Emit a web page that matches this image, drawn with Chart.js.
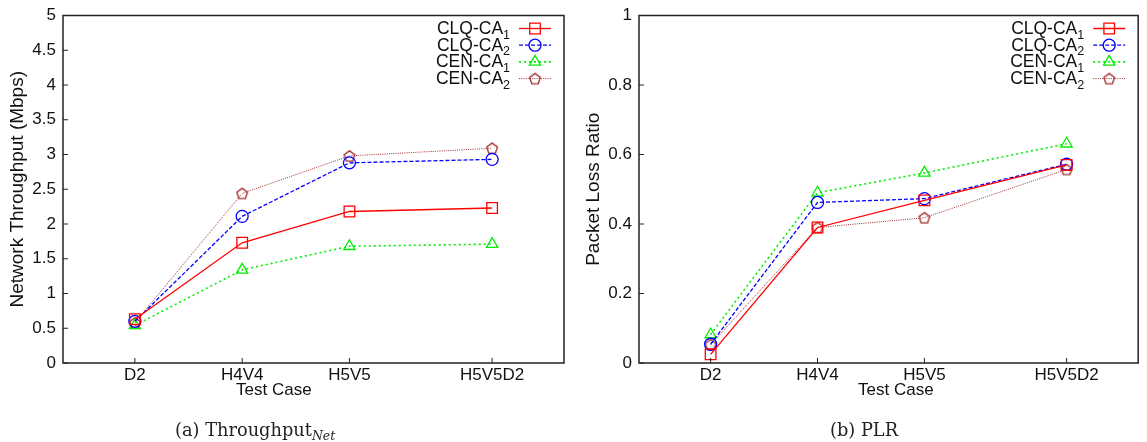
<!DOCTYPE html>
<html>
<head>
<meta charset="utf-8">
<script src="https://cdn.jsdelivr.net/npm/chart.js@4.4.0/dist/chart.umd.min.js"></script>
<style>
body{margin:0;background:#fff;width:1147px;height:442px;position:relative;overflow:hidden;font-family:'Liberation Sans',Arial,sans-serif}
canvas{position:absolute;top:0}
#c1{left:0}
#c2{left:576px}
.xt{position:absolute;font-size:17px;line-height:1;color:#111;white-space:nowrap}
.cap{position:absolute;font-family:'DejaVu Serif',serif;font-size:17.8px;line-height:1;color:#222;white-space:nowrap}
.cap i{font-size:12.5px;position:relative;top:4px}
</style>
</head>
<body>
<canvas id="c1" width="573" height="400"></canvas>
<canvas id="c2" width="571" height="400"></canvas>
<div class="xt" style="left:236px;top:381px">Test Case</div>
<div class="xt" style="left:858px;top:381px">Test Case</div>
<div class="cap" style="left:175px;top:421px">(a) Throughput<i>Net</i></div>
<div class="cap" style="left:830px;top:421px">(b) PLR</div>
<script>
// test cases and where they sit on the x axis
const caseLabels = ['D2', 'H4V4', 'H5V5', 'H5V5D2'];
const casePos = [1, 2, 3, 4.33];
const seriesNames = ['CLQ-CA_1', 'CLQ-CA_2', 'CEN-CA_1', 'CEN-CA_2'];

// (a) network throughput, Mbps
const thrCLQ1 = [0.63, 1.73, 2.18, 2.23];
const thrCLQ2 = [0.60, 2.11, 2.88, 2.93];
const thrCEN1 = [0.54, 1.34, 1.68, 1.71];
const thrCEN2 = [0.58, 2.44, 2.98, 3.09];
const thrTicks = [0, 0.5, 1, 1.5, 2, 2.5, 3, 3.5, 4, 4.5, 5];

// (b) packet loss ratio
const plrCLQ1 = [0.025, 0.39, 0.468, 0.57];
const plrCLQ2 = [0.054, 0.462, 0.473, 0.572];
const plrCEN1 = [0.082, 0.49, 0.547, 0.631];
const plrCEN2 = [0.053, 0.39, 0.418, 0.557];
const plrTicks = [0, 0.2, 0.4, 0.6, 0.8, 1];

const FONT = "'Liberation Sans', Arial, sans-serif";

// open pentagon marker (no built-in one in Chart.js)
function pentagon(color) {
    const c = document.createElement('canvas');
    c.width = 14; c.height = 14;
    const g = c.getContext('2d');
    g.strokeStyle = color;
    g.lineWidth = 1.3;
    g.beginPath();
    for (let k = 0; k < 5; k++) {
        const a = -Math.PI / 2 + k * 2 * Math.PI / 5;
        const px = 7 + 5.6 * Math.cos(a), py = 7.5 + 5.6 * Math.sin(a);
        k ? g.lineTo(px, py) : g.moveTo(px, py);
    }
    g.closePath();
    g.stroke();
    return c;
}
const penta = pentagon('#a52a2a');

const styles = [
    {borderColor: '#ff0000', borderWidth: 1.3, borderDash: [], pointStyle: 'rect', pointRadius: 7.5},
    {borderColor: '#0000ff', borderWidth: 1.3, borderDash: [4, 2], pointStyle: 'circle', pointRadius: 6},
    {borderColor: '#00ee00', borderWidth: 1.6, borderDash: [2, 3], pointStyle: 'triangle', pointRadius: 6.5},
    {borderColor: '#a52a2a', borderWidth: 1, borderDash: [1, 1.2], pointStyle: penta, pointRadius: 6}
];

function makeSets(seriesList) {
    return seriesList.map((vals, i) => Object.assign({
        label: seriesNames[i],
        data: vals.map((v, j) => ({x: casePos[j], y: v})),
        pointBorderColor: styles[i].borderColor,
        pointBackgroundColor: 'rgba(0,0,0,0)',
        pointBorderWidth: 1.3,
        tension: 0,
        fill: false
    }, styles[i]));
}

// gnuplot style box with inward ticks
const framePlugin = {
    id: 'frame',
    afterDatasetsDraw(chart) {
        const ctx = chart.ctx, a = chart.chartArea;
        ctx.save();
        ctx.strokeStyle = '#222';
        ctx.lineWidth = 1.5;
        ctx.setLineDash([]);
        ctx.strokeRect(a.left, a.top, a.right - a.left, a.bottom - a.top);
        ctx.lineWidth = 1;
        ctx.beginPath();
        chart.scales.y.ticks.forEach(t => {
            const y = chart.scales.y.getPixelForValue(t.value);
            ctx.moveTo(a.left, y); ctx.lineTo(a.left + 5, y);
        });
        chart.scales.x.ticks.forEach(t => {
            const x = chart.scales.x.getPixelForValue(t.value);
            ctx.moveTo(x, a.bottom); ctx.lineTo(x, a.bottom - 5);
        });
        ctx.stroke();
        ctx.restore();
    }
};

// legend: right aligned text with subscript, then line sample and marker
const legendPlugin = {
    id: 'gpLegend',
    afterDraw(chart) {
        const ctx = chart.ctx, a = chart.chartArea;
        chart.data.datasets.forEach((ds, i) => {
            const y = a.top + 13 + i * 16.7;
            const parts = ds.label.split('_');
            const xr = a.right - 54;
            ctx.save();
            ctx.fillStyle = '#111';
            ctx.textAlign = 'right';
            ctx.textBaseline = 'alphabetic';
            ctx.font = '12.5px ' + FONT;
            const sw = ctx.measureText(parts[1]).width;
            ctx.fillText(parts[1], xr, y + 10);
            ctx.font = '17.5px ' + FONT;
            ctx.fillText(parts[0], xr - sw, y + 5.5);
            ctx.strokeStyle = ds.borderColor;
            ctx.lineWidth = ds.borderWidth;
            ctx.setLineDash(ds.borderDash);
            ctx.beginPath();
            ctx.moveTo(a.right - 45, y);
            ctx.lineTo(a.right - 13, y);
            ctx.stroke();
            ctx.setLineDash([]);
            ctx.lineWidth = 1.3;
            ctx.fillStyle = 'rgba(0,0,0,0)';
            Chart.helpers.drawPoint(ctx, {
                pointStyle: ds.pointStyle, radius: ds.pointRadius, borderWidth: 1.3, rotation: 0
            }, a.right - 29, y);
            ctx.restore();
        });
    }
};

function makeChart(id, seriesList, ticks, yTitle, rightPad) {
    return new Chart(document.getElementById(id), {
        type: 'line',
        data: {datasets: makeSets(seriesList)},
        options: {
            responsive: false,
            devicePixelRatio: 1,
            animation: false,
            events: [],
            layout: {padding: {top: 9, right: rightPad, left: 0, bottom: 0}},
            plugins: {legend: {display: false}, tooltip: {enabled: false}},
            scales: {
                x: {
                    type: 'linear',
                    min: 0.33,
                    max: 5,
                    grid: {display: false, drawTicks: false},
                    border: {display: false},
                    afterBuildTicks: s => { s.ticks = casePos.map(v => ({value: v})); },
                    afterFit: s => { s.height = 37; },
                    ticks: {
                        color: '#111',
                        padding: 4,
                        maxRotation: 0,
                        autoSkip: false,
                        font: {family: FONT, size: 17, lineHeight: 1},
                        callback: v => caseLabels[casePos.indexOf(v)]
                    }
                },
                y: {
                    min: 0,
                    max: ticks[ticks.length - 1],
                    grid: {display: false, drawTicks: false},
                    border: {display: false},
                    afterBuildTicks: s => { s.ticks = ticks.map(v => ({value: v})); },
                    afterFit: s => { s.width = 63; },
                    ticks: {
                        color: '#111',
                        padding: 7,
                        font: {family: FONT, size: 17, lineHeight: 1},
                        callback: v => String(v)
                    },
                    title: {
                        display: true,
                        text: yTitle,
                        color: '#111',
                        padding: {top: 6, bottom: 0},
                        font: {family: FONT, size: 19}
                    }
                }
            }
        },
        plugins: [framePlugin, legendPlugin]
    });
}

makeChart('c1', [thrCLQ1, thrCLQ2, thrCEN1, thrCEN2], thrTicks, 'Network Throughput (Mbps)', 9);
makeChart('c2', [plrCLQ1, plrCLQ2, plrCEN1, plrCEN2], plrTicks, 'Packet Loss Ratio', 6);
</script>
</body>
</html>
